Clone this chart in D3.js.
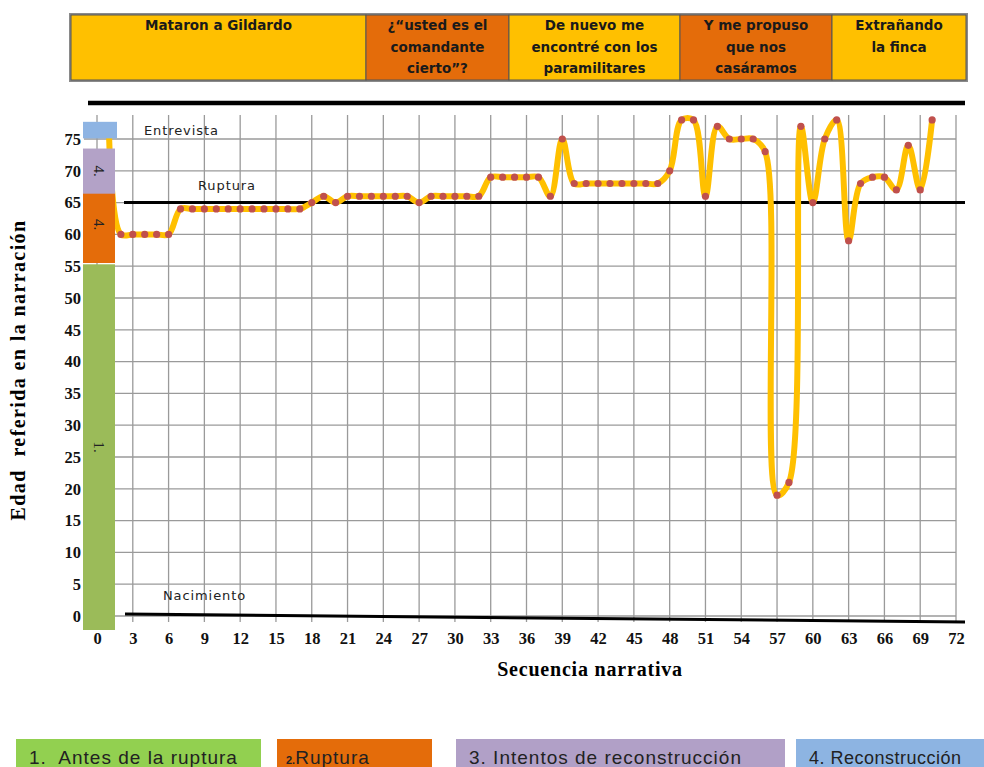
<!DOCTYPE html>
<html><head><meta charset="utf-8">
<script src="https://cdn.jsdelivr.net/npm/d3@7"></script>
<style>body{margin:0;background:#fff}svg{display:block}</style>
</head><body><svg id="c" width="984" height="767"></svg>
<script>
// ---- data ----
const seq = d3.range(1, 71);
const ages = [76,60,60,60,60,60,64,64,64,64,64,64,64,64,64,64,64,65,66,65,
  66,66,66,66,66,66,65,66,66,66,66,66,69,69,69,69,69,66,75,68,
  68,68,68,68,68,68,68,70,78,78,66,77,75,75,75,73,19,21,77,65,
  75,78,59,68,69,69,67,74,67,78];
const xTicks = d3.range(0, 73, 3);
const yTicks = d3.range(0, 76, 5);
const headerLabels = [["Mataron a Gildardo"],["¿“usted es el","comandante","cierto”?"],["De nuevo me","encontré con los","paramilitares"],["Y me propuso","que nos","casáramos"],["Extrañando","la finca"]];
const headerBounds = [71, 366, 509, 680, 832, 966];
const headerColors = ["#FFC000","#E46C0A","#FFC000","#E46C0A","#FFC000"];
const stageBars = [
  {label:"1.", from:-2.2, to:55.3, color:"#9BBB59"},
  {label:"4.", from:55.5, to:67.6, color:"#E46C0A"},
  {label:"4.", from:66.4, to:73.5, color:"#B3A2C7"},
  {label:"", from:75.1, to:77.7, color:"#8EB4E3"}
];
const legendItems = [
  {num:"1.  ", text:"Antes de la ruptura", color:"#92D050", x0:16, x1:261, small:false, fs:19, ls:1},
  {num:"2.", text:"Ruptura", color:"#E46C0A", x0:277, x1:432, small:true, fs:19, ls:1},
  {num:"3. ", text:"Intentos de reconstrucción", color:"#B1A0C7", x0:456, x1:785, small:false, fs:19, ls:1},
  {num:"4. ", text:"Reconstrucción", color:"#8DB4E2", x0:796, x1:990, small:false, fs:18, ls:0.5}
];
const refLines = [
  {name:"Entrevista", age:null},
  {name:"Ruptura", age:65},
  {name:"Nacimiento", age:0}
];

// ---- scales ----
const svg = d3.select("#c");
const x = d3.scaleLinear().domain([0, 72]).range([97, 956]);
const y = d3.scaleLinear().domain([0, 80]).range([616, 107.2]);
const gridTop = 115;

// header table
const hdr = svg.append("g");
hdr.append("rect").attr("x",69).attr("y",13).attr("width",899).attr("height",69).attr("fill","#8a8a8a");
headerLabels.forEach((lines,i)=>{
  const x0 = headerBounds[i], x1 = headerBounds[i+1];
  hdr.append("rect").attr("x",x0).attr("y",15).attr("width",x1-x0).attr("height",65)
    .attr("fill",headerColors[i]).attr("stroke","#555").attr("stroke-width",1);
  lines.forEach((t,j)=>{
    hdr.append("text").attr("x",(x0+x1)/2).attr("y",30+j*21.5)
      .attr("text-anchor","middle").attr("font-family","DejaVu Sans").attr("font-weight","bold")
      .attr("font-size",13.5).attr("fill","#1a1a1a").text(t);
  });
});

// gridlines
const grid = svg.append("g").attr("stroke","#9a9a9a").attr("stroke-width",1.3);
yTicks.forEach(v=>{
  grid.append("line").attr("x1",84).attr("x2",x(72)).attr("y1",y(v)).attr("y2",y(v));
});
xTicks.forEach(v=>{
  grid.append("line").attr("x1",x(v)).attr("x2",x(v)).attr("y1",gridTop).attr("y2",622);
});

// axis tick labels
const axY = d3.axisLeft(y).tickValues(yTicks).tickSize(0).tickPadding(0);
const gy = svg.append("g").attr("transform","translate(81,0)").call(axY);
gy.select(".domain").remove();
gy.selectAll("text").attr("font-family","Liberation Serif").attr("font-weight","bold").attr("font-size",16.5).attr("fill","#111");
const axX = d3.axisBottom(x).tickValues(xTicks).tickSize(0).tickPadding(0);
const gx = svg.append("g").attr("transform","translate(0,632)").call(axX);
gx.select(".domain").remove();
gx.selectAll("text").attr("font-family","Liberation Serif").attr("font-weight","bold").attr("font-size",16.5).attr("fill","#111");

// axis titles
svg.append("text").attr("x",590).attr("y",676).attr("text-anchor","middle")
  .attr("font-family","Liberation Serif").attr("font-weight","bold").attr("font-size",20).attr("letter-spacing",0.8).text("Secuencia narrativa");
svg.append("text").attr("transform","translate(25,370) rotate(-90)").attr("text-anchor","middle")
  .attr("font-family","Liberation Serif").attr("font-weight","bold").attr("font-size",20).attr("letter-spacing",1.4).attr("xml:space","preserve")
  .text("Edad  referida en la narración");

// reference lines
svg.append("line").attr("x1",88).attr("x2",965).attr("y1",103).attr("y2",103).attr("stroke","#000").attr("stroke-width",4.5);
svg.append("line").attr("x1",124).attr("x2",965).attr("y1",y(refLines[1].age)).attr("y2",y(refLines[1].age)).attr("stroke","#000").attr("stroke-width",3);
svg.append("line").attr("x1",125).attr("x2",965).attr("y1",y(refLines[2].age)-2).attr("y2",y(refLines[2].age)+6).attr("stroke","#000").attr("stroke-width",3);
const annot = [[refLines[0].name,144,135],[refLines[1].name,198,190],[refLines[2].name,163,600]];
annot.forEach(a=>svg.append("text").attr("x",a[1]).attr("y",a[2]).attr("font-family","DejaVu Sans")
  .attr("font-size",13).attr("letter-spacing",0.9).attr("fill","#222").text(a[0]));

// series
const line = d3.line().x((d,i)=>x(seq[i])).y(d=>y(d)).curve(d3.curveCatmullRom.alpha(0.5));
svg.append("path").datum(ages).attr("d",line).attr("fill","none").attr("stroke","#FFC000")
  .attr("stroke-width",6).attr("stroke-linejoin","round");
svg.append("g").selectAll("circle").data(ages).join("circle")
  .attr("cx",(d,i)=>x(seq[i])).attr("cy",d=>y(d)).attr("r",3.6).attr("fill","#C0504D");

// stage bars on left
stageBars.forEach(b=>{
  svg.append("rect").attr("x",83).attr("width",b.color==="#8EB4E3"?34:32)
    .attr("y",y(b.to)).attr("height",y(b.from)-y(b.to)).attr("fill",b.color);
  if(b.label){
    const cy = (y(b.from)+y(b.to))/2;
    svg.append("text").attr("transform",`translate(99,${cy}) rotate(90)`).attr("text-anchor","middle")
      .attr("dy","0.35em").attr("font-family","Liberation Serif").attr("font-size",15).attr("fill","#222").text(b.label);
  }
});

// legend
legendItems.forEach(l=>{
  svg.append("rect").attr("x",l.x0).attr("y",739).attr("width",l.x1-l.x0).attr("height",40).attr("fill",l.color);
  const t = svg.append("text").attr("x",l.x0+ (l.small?9:13)).attr("y",764).attr("font-family","Liberation Sans")
    .attr("font-size",l.fs).attr("letter-spacing",l.ls).attr("fill","#222").attr("xml:space","preserve");
  if(l.small){
    t.append("tspan").attr("font-size",11).attr("font-weight","bold").attr("letter-spacing",0).text(l.num);
    t.append("tspan").text(l.text);
  } else {
    t.text(l.num + l.text);
  }
});
</script></body></html>
